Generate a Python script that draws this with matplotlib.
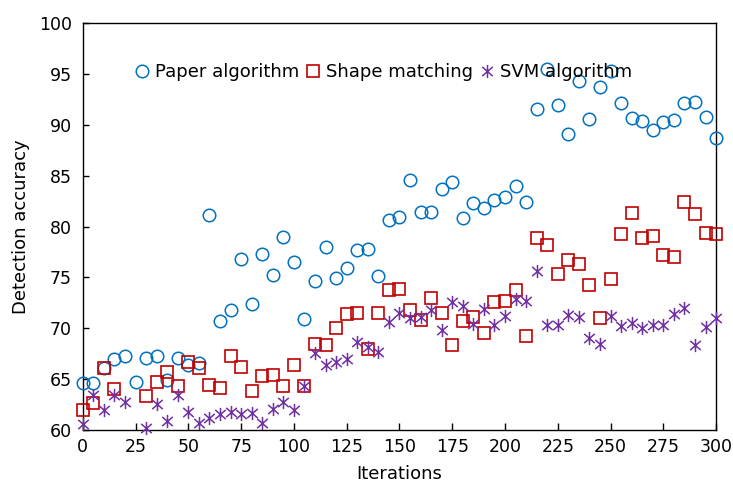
import numpy as np
import matplotlib
matplotlib.use('Agg')
import matplotlib.pyplot as plt
from matplotlib.path import Path

# #### Data
iterations = list(range(0, 301, 5))

paper_alg = [64.6, 64.6, 66.1, 67.0, 67.3, 64.7, 67.1, 67.3, 64.9, 67.1, 66.4, 66.6,
             81.1, 70.7, 71.8, 76.8, 72.4, 77.3, 75.2, 79.0, 76.5, 70.9, 74.6, 78.0,
             74.9, 75.9, 77.7, 77.8, 75.1, 80.6, 80.9, 84.6, 81.4, 81.4, 83.7, 84.4,
             80.8, 82.3, 81.8, 82.6, 82.9, 84.0, 82.4, 91.6, 95.5, 92.0, 89.1, 94.3,
             90.6, 93.7, 95.3, 92.1, 90.7, 90.4, 89.5, 90.3, 90.5, 92.1, 92.2, 90.8, 88.7]

shape_match = [62.0, 62.7, 66.1, 64.0, np.nan, np.nan, 63.3, 64.7, 65.7, 64.3, 66.7, 66.1,
               64.4, 64.1, 67.3, 66.2, 63.8, 65.3, 65.4, 64.3, 66.4, 64.3, 68.5, 68.4,
               70.0, 71.4, 71.5, 68.0, 71.5, 73.8, 73.9, 71.8, 70.8, 73.0, 71.5, 68.4,
               70.7, 71.1, 69.5, 72.6, 72.7, 73.8, 69.2, 78.9, 78.2, 75.3, 76.7, 76.3,
               74.3, 71.0, 74.8, 79.3, 81.3, 78.9, 79.1, 77.2, 77.0, 82.4, 81.2, 79.4, 79.3]

svm_alg = [60.6, 63.4, 62.0, 63.4, 62.8, np.nan, 60.2, 62.6, 60.9, 63.4, 61.8, 60.7,
           61.2, 61.6, 61.8, 61.6, 61.7, 60.7, 62.1, 62.8, 62.0, 64.3, 67.6, 66.4,
           66.7, 67.0, 68.7, 68.2, 67.7, 70.6, 71.5, 71.0, 71.1, 71.8, 69.8, 72.6,
           72.2, 70.4, 71.9, 70.3, 71.2, 72.9, 72.7, 75.6, 70.3, 70.3, 71.3, 71.1,
           69.0, 68.5, 71.2, 70.2, 70.5, 70.0, 70.3, 70.3, 71.4, 72.0, 68.4, 70.1, 71.0]

labels = ['Paper algorithm', 'Shape matching', 'SVM algorithm']

# #### Plot settings
blue = '#0070C0'
red = '#C00000'
purple = '#7030A0'

# Excel style star: X plus a vertical bar
star = Path([(0, -1), (0, 1), (-0.8, -0.7), (0.8, 0.7), (-0.8, 0.7), (0.8, -0.7)],
            [Path.MOVETO, Path.LINETO, Path.MOVETO, Path.LINETO, Path.MOVETO, Path.LINETO])

plt.rcParams['font.family'] = 'DejaVu Sans'

fig = plt.figure(figsize=(7.33, 4.92), dpi=100)
ax = fig.add_axes([0.113, 0.126, 0.864, 0.827])

ax.plot(iterations, paper_alg, linestyle='none', marker='o', markersize=9,
        markerfacecolor='none', markeredgecolor=blue, markeredgewidth=1.1,
        label=labels[0], clip_on=False, zorder=3)
ax.plot(iterations, shape_match, linestyle='none', marker='s', markersize=9,
        markerfacecolor='none', markeredgecolor=red, markeredgewidth=1.2,
        label=labels[1], clip_on=False, zorder=4)
ax.plot(iterations, svm_alg, linestyle='none', marker=star, markersize=9.5,
        markerfacecolor='none', markeredgecolor=purple, markeredgewidth=1.1,
        label=labels[2], clip_on=False, zorder=5)

ax.set_xlim(0, 300)
ax.set_ylim(60, 100)
ax.set_xticks(range(0, 301, 25))
ax.set_yticks(range(60, 101, 5))
ax.tick_params(axis='x', direction='in', length=5, width=1, labelsize=12.5, pad=6)
ax.tick_params(axis='y', direction='in', length=4, width=1, labelsize=12.5, pad=8)
for sp in ax.spines.values():
    sp.set_linewidth(1)

ax.set_xlabel('Iterations', fontsize=13, labelpad=6)
ax.set_ylabel('Detection accuracy', fontsize=13, labelpad=6)

ax.legend(loc='center left', bbox_to_anchor=(0.082, 0.88), ncol=3, frameon=False,
          fontsize=13, handlelength=0.8, handletextpad=0.3, columnspacing=0.4,
          borderaxespad=0, borderpad=0)

plt.savefig('out.png', dpi=100, facecolor='w')
